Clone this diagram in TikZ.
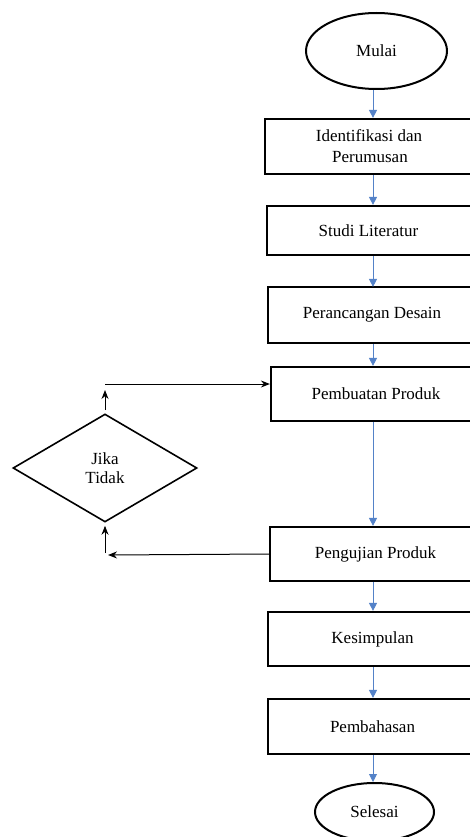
\documentclass[tikz,border=0pt]{standalone}
\usepackage{fontspec}
\setmainfont{Liberation Serif}
\usetikzlibrary{shapes.geometric,arrows.meta,calc}
\definecolor{flowblue}{RGB}{84,130,200}
\begin{document}
\begin{tikzpicture}[x=1pt,y=-1pt,
  every node/.style={font=\fontsize{17}{21}\selectfont},
  procbox/.style={draw,line width=2.2pt,rectangle,inner sep=0pt,align=center},
  termshape/.style={draw,line width=2pt,ellipse,inner sep=0pt},
  decshape/.style={draw,line width=1.6pt,diamond,inner sep=0pt,aspect=1.7,minimum width=184pt,minimum height=108pt,align=center,font=\fontsize{17}{19}\selectfont},
  bluearrow/.style={draw=flowblue,line width=0.9pt,-{Triangle[width=8pt,length=8pt]}},
  blackarrow/.style={draw=black,line width=1pt,-{Stealth[width=7pt,length=9pt]}}]
\useasboundingbox (0,0) rectangle (470,837);
\clip (0,0) rectangle (470,837);
% terminals
\node[termshape,minimum width=141pt,minimum height=76pt] (start) at (376.5,51) {Mulai};
\node[termshape,minimum width=119pt,minimum height=58pt] (stop) at (374.5,812) {Selesai};
% process boxes (right edge beyond picture)
\node[procbox,minimum width=220pt,minimum height=55pt] (b1) at (375,146.5) {\hspace*{-12pt}Identifikasi dan\\\hspace*{-10pt}Perumusan};
\node[procbox,minimum width=218pt,minimum height=49pt] (b2) at (376,230.5) {\hspace*{-15pt}Studi Literatur};
\node[procbox,minimum width=216pt,minimum height=56pt] (b3) at (376,315) {\hspace*{-8pt}Perancangan Desain};
\node[procbox,minimum width=212pt,minimum height=54pt] (b4) at (377,394) {\hspace*{-2pt}Pembuatan Produk};
\node[procbox,minimum width=214pt,minimum height=54pt] (b5) at (377,554) {\hspace*{-3pt}Pengujian Produk};
\node[procbox,minimum width=218pt,minimum height=54pt] (b6) at (377,639) {\hspace*{-9pt}Kesimpulan};
\node[procbox,minimum width=218pt,minimum height=55pt] (b7) at (377,726.5) {\hspace*{-9pt}Pembahasan};
% decision
\node[decshape] (dec) at (105,468) {Jika\\Tidak};
% helper coordinates
\coordinate (ax) at (373,0);
\coordinate (upstart) at (105,384);
\coordinate (lowend) at (108,555);
\coordinate (lowstart) at (105,553);
% blue flow arrows
\draw[bluearrow] (start.south -| ax) -- (b1.north -| ax);
\draw[bluearrow] (b1.south -| ax) -- (b2.north -| ax);
\draw[bluearrow] (b2.south -| ax) -- ([yshift=-1pt]b3.north -| ax);
\draw[bluearrow] (b3.south -| ax) -- (b4.north -| ax);
\draw[bluearrow] (b4.south -| ax) -- (b5.north -| ax);
\draw[bluearrow] (b5.south -| ax) -- (b6.north -| ax);
\draw[bluearrow] (b6.south -| ax) -- (b7.north -| ax);
\draw[bluearrow] (b7.south -| ax) -- (stop.north -| ax);
% black feedback arrows
\draw[blackarrow,shorten <=3pt,shorten >=3pt] (dec.north) -- (105,387);
\draw[blackarrow] (upstart) -- (upstart -| b4.west);
\draw[blackarrow] (b5.west) -- (lowend);
\draw[blackarrow,shorten >=3pt] (lowstart) -- (dec.south);
\end{tikzpicture}
\end{document}
